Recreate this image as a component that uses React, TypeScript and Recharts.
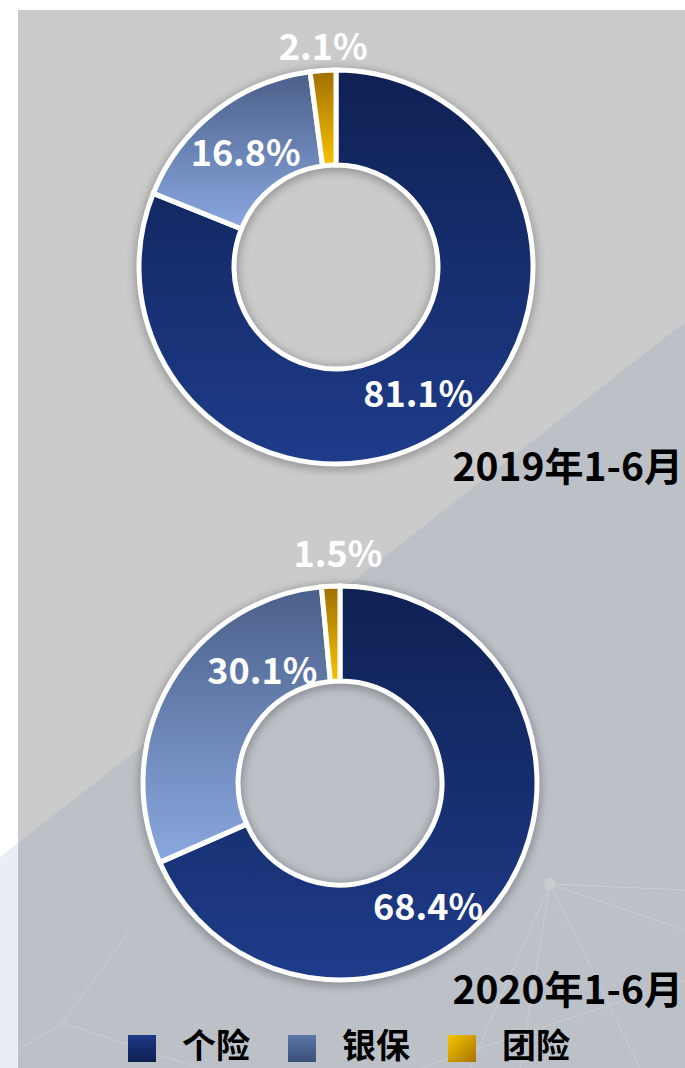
import React from 'react';
import { PieChart, Pie, Cell, Legend } from 'recharts';

const categories = ['个险', '银保', '团险'];
const values2019 = [81.1, 16.8, 2.1];
const values2020 = [68.4, 30.1, 1.5];
const periodLabels = ['2019年1-6月', '2020年1-6月'];

const W = 685;
const H = 1068;
const FONT = '"Noto Sans CJK SC", "Noto Sans", sans-serif';

const gradIds = ['gGe', 'gYin', 'gTuan'];
const legendGradIds = ['lGe', 'lYin', 'lTuan'];

// label layout: [angleDeg, radius] relative to pie center
const labelLayout2019: [number, number][] = [[-56.5, 149], [127.6, 148], [93.3, 223]];
const labelLayout2020: [number, number][] = [[-54, 150], [124, 139], [90.5, 232]];

const data2019 = categories.map((name, i) => ({ name, value: values2019[i] }));
const data2020 = categories.map((name, i) => ({ name, value: values2020[i] }));

const makeLabel = (layout: [number, number][], values: number[]) => (props: any) => {
  const { cx, cy, index } = props;
  const [ang, r] = layout[index];
  const rad = (ang * Math.PI) / 180;
  const x = cx + r * Math.cos(rad);
  const y = cy - r * Math.sin(rad);
  return (
    <text
      key={'lbl' + index}
      x={x}
      y={y}
      textAnchor="middle"
      dominantBaseline="central"
      fill="#ffffff"
      fontFamily={FONT}
      fontWeight={700}
      fontSize={36}
    >
      {values[index].toFixed(1)}%
    </text>
  );
};

const C1 = { cx: 336, cy: 267 };
const C2 = { cx: 340, cy: 783 };
const OUTER = 197;
const INNER = 102;

const Background = () => (
  <svg width={W} height={H} style={{ position: 'absolute', left: 0, top: 0 }}>
    <defs>
      <filter id="blurShadow" x="-20%" y="-20%" width="140%" height="140%">
        <feGaussianBlur stdDeviation="5" />
      </filter>
    </defs>
    <rect x={0} y={0} width={W} height={H} fill="#ffffff" />
    <rect x={18} y={10} width={W - 18} height={H - 10} fill="#cbcbcb" />
    <polygon points={`18,843 685,322 685,${H} 18,${H}`} fill="#bcc0c7" />
    <polygon points={`0,857 18,843 18,${H} 0,${H}`} fill="#e9eef6" />
    <g stroke="#d4d6da" strokeWidth={1} opacity={0.6}>
      <line x1={550} y1={884} x2={685} y2={890} />
      <line x1={550} y1={884} x2={685} y2={930} />
      <line x1={550} y1={884} x2={520} y2={1068} />
      <line x1={550} y1={884} x2={470} y2={1068} />
      <line x1={550} y1={884} x2={640} y2={1068} />
      <line x1={63} y1={1023} x2={130} y2={930} />
      <line x1={63} y1={1023} x2={200} y2={1068} />
      <line x1={63} y1={1023} x2={18} y2={1050} />
      <line x1={420} y1={1068} x2={685} y2={980} />
    </g>
    <circle cx={550} cy={884} r={6} fill="#c9ccd1" />
    <circle cx={63} cy={1023} r={6} fill="#c2c5ca" />
    <circle cx={C1.cx} cy={C1.cy + 2} r={(OUTER + INNER) / 2} fill="none" stroke="#000" strokeOpacity={0.28} strokeWidth={OUTER - INNER + 8} filter="url(#blurShadow)" />
    <circle cx={C2.cx} cy={C2.cy + 2} r={(OUTER + INNER) / 2} fill="none" stroke="#000" strokeOpacity={0.28} strokeWidth={OUTER - INNER + 8} filter="url(#blurShadow)" />
  </svg>
);

const legendStops = [
  ['#1d3a88', '#0f1f52'],
  ['#5a76a8', '#3a4e78'],
  ['#f7c400', '#a87400'],
];

const renderLegend = () => (
  <div style={{ position: 'relative', width: W, height: 40 }}>
    {categories.map((c, i) => (
      <div key={c} style={{ position: 'absolute', left: 128 + i * 160, top: 0, height: 40 }}>
        <svg width={28} height={27} style={{ position: 'absolute', left: 0, top: 7 }}>
          <defs>
            <linearGradient id={legendGradIds[i]} x1="0" y1="0" x2={i === 2 ? '1' : '0'} y2="1">
              <stop offset="0%" stopColor={legendStops[i][0]} />
              <stop offset="100%" stopColor={legendStops[i][1]} />
            </linearGradient>
          </defs>
          <rect x={0} y={0} width={28} height={27} fill={`url(#${legendGradIds[i]})`} />
        </svg>
        <span
          style={{
            position: 'absolute',
            left: 54,
            top: -7,
            fontFamily: FONT,
            fontWeight: 700,
            fontSize: 34,
            color: '#000',
            whiteSpace: 'nowrap',
            lineHeight: '46px',
          }}
        >
          {c}
        </span>
      </div>
    ))}
  </div>
);

export default function App() {
  return (
    <div style={{ position: 'absolute', left: 0, top: 0, width: W, height: H, overflow: 'hidden' }}>
      <Background />
      <div style={{ position: 'absolute', left: 0, top: 0 }}>
        <PieChart width={W} height={H} margin={{ top: 0, right: 0, bottom: 0, left: 0 }}>
          <defs>
            <linearGradient id="gGe" x1="0" y1="0" x2="0" y2="1">
              <stop offset="0%" stopColor="#0f2052" />
              <stop offset="100%" stopColor="#1e3c8a" />
            </linearGradient>
            <linearGradient id="gYin" x1="0" y1="0" x2="0" y2="1">
              <stop offset="0%" stopColor="#4a5f88" />
              <stop offset="100%" stopColor="#8aa8e0" />
            </linearGradient>
            <linearGradient id="gTuan" x1="0" y1="0" x2="0" y2="1">
              <stop offset="0%" stopColor="#a06e00" />
              <stop offset="100%" stopColor="#f7c300" />
            </linearGradient>
          </defs>
          <Pie
            data={data2019}
            dataKey="value"
            nameKey="name"
            cx={C1.cx}
            cy={C1.cy}
            innerRadius={INNER}
            outerRadius={OUTER}
            startAngle={90}
            endAngle={-270}
            stroke="#ffffff"
            strokeWidth={5}
            isAnimationActive={false}
            labelLine={false}
            label={makeLabel(labelLayout2019, values2019)}
          >
            {data2019.map((d, i) => (
              <Cell key={d.name} fill={`url(#${gradIds[i]})`} />
            ))}
          </Pie>
          <Pie
            data={data2020}
            dataKey="value"
            nameKey="name"
            cx={C2.cx}
            cy={C2.cy}
            innerRadius={INNER}
            outerRadius={OUTER}
            startAngle={90}
            endAngle={-270}
            stroke="#ffffff"
            strokeWidth={5}
            isAnimationActive={false}
            labelLine={false}
            label={makeLabel(labelLayout2020, values2020)}
          >
            {data2020.map((d, i) => (
              <Cell key={d.name} fill={`url(#${gradIds[i]})`} />
            ))}
          </Pie>
          <text x={683} y={464} textAnchor="end" dominantBaseline="central" fontFamily={FONT} fontWeight={700} fontSize={39} fill="#000">
            {periodLabels[0]}
          </text>
          <text x={683} y={987} textAnchor="end" dominantBaseline="central" fontFamily={FONT} fontWeight={700} fontSize={39} fill="#000">
            {periodLabels[1]}
          </text>
          <Legend
            content={renderLegend}
            wrapperStyle={{ position: 'absolute', left: 0, top: 1028, width: W, height: 40 }}
          />
        </PieChart>
      </div>
    </div>
  );
}
